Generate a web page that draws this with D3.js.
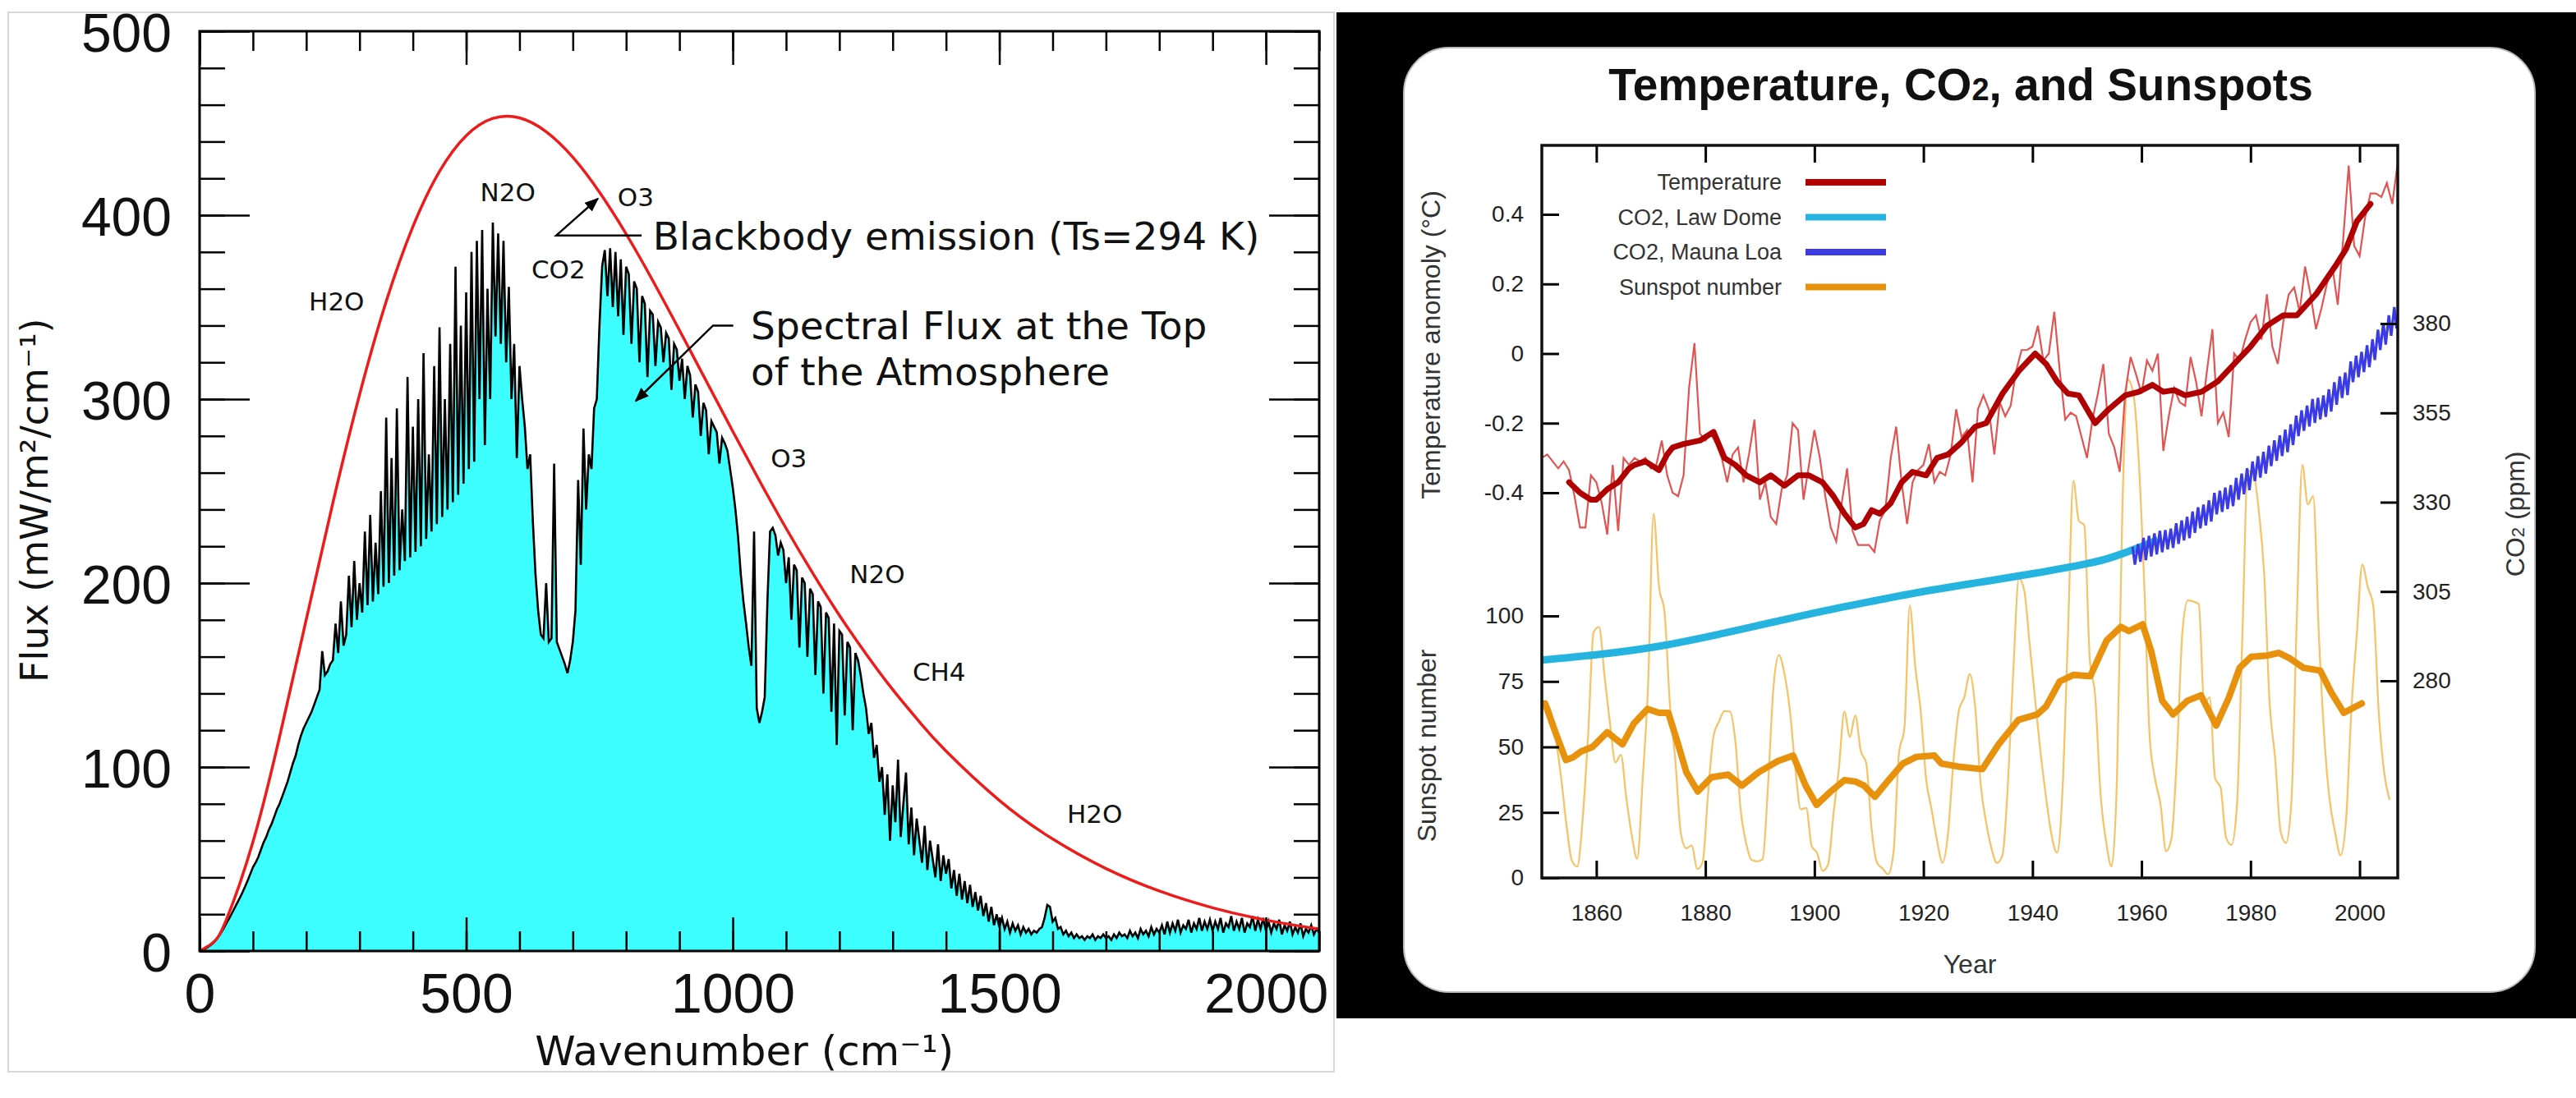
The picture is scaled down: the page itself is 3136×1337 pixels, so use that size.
<!DOCTYPE html>
<html><head><meta charset="utf-8">
<script src="https://cdn.jsdelivr.net/npm/d3@7"></script>
<style>html,body{margin:0;padding:0;background:#fff;} svg{display:block;}</style>
</head><body>
<svg id="c" width="3136" height="1337"></svg>
<script>
// ---------------- LEFT CHART DATA ----------------
const specStep = 5; // cm-1 between samples, starting at 0
const specFlux = [
0,0.5,1.2,2.1,3.0,4.2,5.8,7.7,9.8,12.2,15,17.5,20.2,23,25.8,28.6,31.6,34.8,38.2,41.8,45.5,
48,51,55,59,62,66,69,73,77,80,84,88,92,97,102,106,112,117,121,124,
127,130,134,138,142,163,150,152,156,158,178,162,190,166,172,204,176,212,180,200,
184,228,188,237,190,222,194,250,198,290,200,268,204,295,207,240,212,312,214,285,
217,300,220,325,224,270,228,318,232,339,236,300,240,330,244,372,248,340,254,358,
262,380,266,386,300,392,275,360,300,396,334,390,330,386,320,361,300,330,268,318,
300,285,262,270,234,205,185,172,170,200,168,170,265,168,164,160,156,151,158,168,
185,256,210,284,240,270,262,295,300,340,372,381,356,382,350,380,345,376,335,372,
368,330,364,360,320,356,352,312,348,346,318,342,339,320,336,333,305,330,327,310,
322,300,318,313,290,308,304,280,298,294,270,288,285,282,265,279,276,272,262,252,
240,225,205,190,178,165,155,228,132,124,130,138,190,228,230,226,215,222,218,200,
214,180,210,207,165,203,200,160,197,194,150,190,187,140,184,181,130,178,112,174,
172,128,168,165,120,162,158,150,140,132,118,124,105,112,92,100,74,96,60,90,
70,104,62,80,97,58,78,52,72,60,48,68,44,60,50,40,58,38,52,42,
50,34,44,30,42,28,38,26,36,24,32,22,30,19,26,16,24,14,20,13,
18,12,16,10,15,11,14,9,13,10,12,9,11,10,12,13,18,25,24,16,
18,12,13,9,11,8,10,7,9,7,8,6,8,7,9,6,8,7,9,7,
8,6,9,7,10,8,9,7,11,8,10,7,12,9,11,8,13,9,12,10,
14,9,16,10,15,11,17,10,14,12,17,10,15,12,18,11,16,12,17,11,
16,12,18,10,15,13,19,11,16,12,18,10,15,13,19,11,17,12,18,11,
16,10,15,12,17,9,14,11,16,9,13,10,15,8,12,10,14,9,12,10
];
const bbWave = [0,25,50,100,150,200,250,300,350,400,450,500,550,600,650,700,750,800,850,900,950,1000,1050,1100,1150,1200,1250,1300,1350,1400,1500,1600,1700,1800,1900,2000,2100];
const bbFlux = [0,4.5,16.9,59.3,116.5,180.2,243.7,302.4,353.1,393.7,423.8,443.2,452.6,452.9,445.4,431.5,412.5,389.8,364.4,337.5,310.0,282.5,255.7,229.8,205.4,182.5,161.5,142.1,124.6,108.7,81.9,60.9,44.8,32.6,23.5,16.8,11.9];
const leftXTicks = [0,500,1000,1500,2000];
const leftYTicks = [0,100,200,300,400,500];
const gasLabels = ["H2O","N2O","O3","CO2","O3","N2O","CH4","H2O"];

// ---------------- RIGHT CHART DATA ----------------
const tempFirstYear = 1850;
const tempAnnual = [
-0.30,-0.29,-0.31,-0.33,-0.31,-0.335,-0.41,-0.50,-0.50,-0.35,
-0.37,-0.43,-0.52,-0.32,-0.51,-0.30,-0.32,-0.30,-0.31,-0.30,
-0.33,-0.32,-0.25,-0.35,-0.40,-0.41,-0.35,-0.10,0.03,-0.23,
-0.25,-0.23,-0.26,-0.30,-0.37,-0.29,-0.27,-0.37,-0.29,-0.19,
-0.42,-0.37,-0.47,-0.49,-0.39,-0.35,-0.20,-0.22,-0.42,-0.32,
-0.22,-0.30,-0.41,-0.50,-0.54,-0.43,-0.33,-0.51,-0.55,-0.55,
-0.55,-0.57,-0.48,-0.45,-0.30,-0.21,-0.37,-0.49,-0.37,-0.335,
-0.32,-0.26,-0.37,-0.34,-0.35,-0.29,-0.16,-0.24,-0.22,-0.37,
-0.16,-0.12,-0.16,-0.29,-0.14,-0.18,-0.15,-0.05,0.01,0.01,
0.02,0.08,-0.02,0.00,0.12,-0.05,-0.19,-0.17,-0.18,-0.24,
-0.30,-0.19,-0.115,-0.03,-0.23,-0.27,-0.34,-0.115,-0.01,-0.06,
-0.115,-0.02,-0.05,0.00,-0.28,-0.18,-0.10,-0.14,-0.15,-0.01,
-0.08,-0.18,-0.05,0.07,-0.20,-0.17,-0.24,0.00,-0.02,0.04,
0.09,0.11,0.04,0.17,0.02,-0.03,0.09,0.17,0.19,0.12,
0.25,0.17,0.07,0.13,0.20,0.25,0.14,0.33,0.54,0.31,
0.28,0.39,0.46,0.46,0.45,0.49,0.43,0.55];
const tempSmoothYear = [1855,1857,1859,1860,1862,1864,1866,1867,1869,1870,1871.5,1873,1874,1876,1879,1881.5,1883.5,1885.5,1887.5,1890,1892,1894.5,1897,1899,1901.5,1903.5,1905.5,1907.5,1909,1910.5,1912,1914,1916,1918,1920.5,1922.5,1924.5,1927,1929.5,1931.5,1934.5,1937.5,1940.5,1942.5,1944.5,1946.5,1948.5,1951.5,1954,1957,1959.5,1962,1964,1966,1968,1971,1974,1977,1980,1983,1986,1988.5,1992,1995.5,1997.5,1999.5,2002];
const tempSmoothVal = [-0.37,-0.40,-0.42,-0.42,-0.39,-0.37,-0.33,-0.32,-0.31,-0.32,-0.335,-0.29,-0.27,-0.26,-0.25,-0.225,-0.30,-0.32,-0.35,-0.37,-0.35,-0.38,-0.35,-0.35,-0.37,-0.41,-0.46,-0.50,-0.49,-0.45,-0.46,-0.43,-0.37,-0.34,-0.35,-0.30,-0.29,-0.255,-0.21,-0.20,-0.115,-0.05,0.00,-0.03,-0.08,-0.115,-0.12,-0.20,-0.16,-0.12,-0.11,-0.09,-0.11,-0.105,-0.12,-0.11,-0.08,-0.03,0.02,0.08,0.11,0.11,0.17,0.25,0.30,0.38,0.43];

const lawDomeYear = [1850,1860,1870,1880,1890,1900,1910,1920,1930,1940,1950,1955,1960,1963];
const lawDomeCO2 = [285.8,287.3,289.3,292.2,295.6,299.0,302.1,305.0,307.5,310.0,312.8,314.8,317.6,319.5];

const maunaLoaYear = [1958,1959,1960,1961,1962,1963,1964,1965,1966,1967,1968,1969,1970,1971,1972,1973,1974,1975,1976,1977,1978,1979,1980,1981,1982,1983,1984,1985,1986,1987,1988,1989,1990,1991,1992,1993,1994,1995,1996,1997,1998,1999,2000,2001,2002,2003,2004,2005,2006,2007];
const maunaLoaPeak = [317.5,318.3,320.0,320.6,321.3,322.0,322.2,322.6,324.1,324.9,325.9,327.4,328.6,329.3,330.5,332.6,333.2,334.1,334.8,336.8,338.0,339.5,341.4,342.9,344.1,345.8,347.3,348.7,350.3,351.8,354.2,355.7,357.0,358.9,359.2,359.9,361.6,363.6,365.2,366.3,369.4,371.0,372.1,373.9,375.6,378.3,380.2,382.3,384.6,386.5];
const maunaLoaTrough = [312.5,313.3,313.8,314.8,315.4,316.0,316.8,317.2,318.3,319.3,319.9,321.4,322.7,323.5,324.6,326.6,327.3,328.1,328.9,330.7,332.2,333.4,335.9,336.9,338.0,340.1,341.6,342.9,344.0,346.0,348.5,350.0,351.2,352.2,353.2,353.9,355.4,357.3,359.2,360.0,363.6,365.0,366.4,367.8,369.8,372.6,374.1,376.6,378.6,380.2];

const sunFirstYear = 1850;
const sunspotAnnual = [66.6,64.5,54.1,39.0,20.6,6.7,4.3,22.7,54.8,93.8,
95.8,77.2,59.1,44.0,47.0,30.5,16.3,7.3,37.6,74.0,
139.0,111.2,101.6,66.2,44.7,17.0,11.3,12.4,3.4,6.0,
32.3,54.3,59.7,63.7,63.5,52.2,25.4,13.1,6.8,6.3,
7.1,35.6,73.0,85.1,78.0,64.0,41.8,26.2,26.7,12.1,
9.5,2.7,5.0,24.4,42.0,63.5,53.8,62.0,48.5,43.9,
18.6,5.7,3.6,1.4,9.6,47.4,57.1,103.9,80.6,63.6,
37.6,26.1,14.2,5.8,16.7,44.3,63.9,69.0,77.8,64.9,
35.7,21.2,11.1,5.7,8.7,36.1,79.7,114.4,109.6,88.8,
67.8,47.5,30.6,16.3,9.6,33.2,92.6,151.6,136.3,134.7,
83.9,69.4,31.5,13.9,4.4,38.0,141.7,190.2,184.8,159.0,
112.3,53.9,37.6,27.9,10.2,15.1,47.0,93.8,105.9,105.5,
104.5,66.6,68.9,38.0,34.5,15.5,12.6,27.5,92.5,155.4,
154.6,140.4,115.9,66.6,45.9,17.9,13.4,29.4,100.2,157.6,
142.6,145.7,94.3,54.6,29.9,17.5,8.6,21.5,64.3,93.3,
119.6,111.0,104.0,63.7,40.4,29.8];
const sunSmoothYear = [1850.6,1852.6,1854.4,1855.7,1857.2,1859.3,1862,1864.8,1866.9,1869.4,1871.5,1873.2,1875,1876.5,1878.6,1881.1,1884.2,1886.7,1889.8,1893.3,1896.1,1898.4,1900.4,1903,1905.5,1907.5,1909.1,1911.1,1913.6,1916.2,1918.7,1922,1923.3,1926.4,1930.8,1933.8,1937.4,1940.9,1942.5,1945,1947.5,1950.6,1953.6,1956.2,1957.7,1960.2,1961.8,1963.8,1965.8,1968.4,1970.9,1971.9,1973.7,1976,1978,1980.1,1983.1,1985.2,1987.2,1989.7,1992.8,1994.8,1997.1,2000.4];
const sunSmoothVal = [66.6,55,45,46,48.3,50,55.6,51,59,64.5,63,63,51,40.4,33,38.4,39.4,35.2,40.4,44.6,46.7,35.2,27.9,33,37.3,36.8,35.2,31,37.3,43.6,46.2,46.7,43.6,42.5,41.5,51,60.3,62.4,65.5,75,77.5,77,90.6,95.8,94.2,96.8,86.4,67.6,62.4,67.6,69.7,65.5,58.2,68.7,80.2,84.4,84.9,85.9,83.8,80.2,79.1,70.8,63,66.6];

const yearTicks = [1860,1880,1900,1920,1940,1960,1980,2000];
const tempTicks = [-0.4,-0.2,0,0.2,0.4];
const sunTicks = [0,25,50,75,100];
const co2Ticks = [280,305,330,355,380];
const legendNames = ["Temperature","CO2, Law Dome","CO2, Mauna Loa","Sunspot number"];

// ---------------- DRAW ----------------
const svg = d3.select("#c");
const DJ = "DejaVu Sans, sans-serif";
const LS = "Liberation Sans, Arial, sans-serif";

// ===== LEFT PANEL =====
svg.append("rect").attr("x",10).attr("y",15).attr("width",1614).attr("height",1290)
  .attr("fill","#fff").attr("stroke","#d8d8d8").attr("stroke-width",2);

const xL = d3.scaleLinear().domain([0,2100]).range([243,1606]);
const yL = d3.scaleLinear().domain([0,500]).range([1158,38]);

const defs = svg.append("defs");
defs.append("clipPath").attr("id","clipL").append("rect")
  .attr("x",243).attr("y",38).attr("width",1363).attr("height",1120);
defs.append("clipPath").attr("id","clipR").append("rect")
  .attr("x",1877).attr("y",177).attr("width",1042).attr("height",892);
defs.append("marker").attr("id","arr").attr("viewBox","0 0 10 10").attr("refX",9).attr("refY",5)
  .attr("markerWidth",7).attr("markerHeight",7).attr("markerUnits","strokeWidth").attr("orient","auto")
  .append("path").attr("d","M0,1 L10,5 L0,9 Z").attr("fill","#000");

const spec = specFlux.map((f,i)=>({v:i*specStep,f}));
const gL = svg.append("g").attr("clip-path","url(#clipL)");
gL.append("path").datum(spec).attr("fill","#3dffff")
  .attr("d", d3.area().x(d=>xL(d.v)).y0(yL(0)).y1(d=>yL(d.f)));
gL.append("path").datum(spec).attr("fill","none").attr("stroke","#000").attr("stroke-width",2.6)
  .attr("stroke-linejoin","miter")
  .attr("d", d3.line().x(d=>xL(d.v)).y(d=>yL(d.f)));
gL.append("path").datum(bbWave.map((w,i)=>[w,bbFlux[i]])).attr("fill","none")
  .attr("stroke","#ee1b1b").attr("stroke-width",3.5)
  .attr("d", d3.line().curve(d3.curveNatural).x(d=>xL(d[0])).y(d=>yL(d[1])));

function styleAxis(g, font, size, color){
  g.select(".domain").remove();
  g.attr("font-family",font).attr("font-size",size);
  g.selectAll("text").attr("fill",color);
  g.selectAll("line").attr("stroke","#000");
}
// minor + major ticks, mirrored on all four sides
const xMinor = d3.range(0,2101,100), yMinor = d3.range(0,501,20);
[["b",1158],["t",38]].forEach(([s,y])=>{
  const ax = (s==="b"?d3.axisBottom(xL):d3.axisTop(xL)).tickValues(xMinor).tickSize(-24).tickFormat("");
  const g = svg.append("g").attr("transform",`translate(0,${y})`).call(ax); styleAxis(g,LS,10,"#000");
  g.selectAll("line").attr("stroke-width",2.5);
  const ax2 = (s==="b"?d3.axisBottom(xL):d3.axisTop(xL)).tickValues(leftXTicks).tickSize(-41)
      .tickPadding(27).tickFormat(s==="b"?d3.format("d"):"");
  const g2 = svg.append("g").attr("transform",`translate(0,${y})`).call(ax2); styleAxis(g2,LS,68,"#111");
  g2.selectAll("line").attr("stroke-width",2.5);
});
[["l",243],["r",1606]].forEach(([s,x])=>{
  const ax = (s==="l"?d3.axisLeft(yL):d3.axisRight(yL)).tickValues(yMinor).tickSize(-31).tickFormat("");
  const g = svg.append("g").attr("transform",`translate(${x},0)`).call(ax); styleAxis(g,LS,10,"#000");
  g.selectAll("line").attr("stroke-width",2.5);
  const ax2 = (s==="l"?d3.axisLeft(yL):d3.axisRight(yL)).tickValues(leftYTicks).tickSize(-61)
      .tickPadding(34).tickFormat(s==="l"?d3.format("d"):"");
  const g2 = svg.append("g").attr("transform",`translate(${x},0)`).call(ax2); styleAxis(g2,LS,66,"#111");
  g2.selectAll("text").attr("dy","0.37em");
  g2.selectAll("line").attr("stroke-width",2.5);
});
svg.append("rect").attr("x",243).attr("y",38).attr("width",1363).attr("height",1120)
  .attr("fill","none").attr("stroke","#000").attr("stroke-width",3);

svg.append("text").attr("transform",`translate(42,${yL(245)}) rotate(-90)`).attr("text-anchor","middle")
  .attr("dy","0.35em").attr("font-family",DJ).attr("font-size",46).attr("fill","#111")
  .text("Flux (mW/m²/cm⁻¹)");
svg.append("text").attr("x",xL(1022)).attr("y",1297).attr("text-anchor","middle")
  .attr("font-family",DJ).attr("font-size",50).attr("fill","#111").text("Wavenumber (cm⁻¹)");

// gas labels
const gasPos = [[257,353],[578,412.5],[818,410],[673,370.5],[1105,268],[1271,205],[1387,152],[1679,74.5]];
gasLabels.forEach((t,i)=>{
  svg.append("text").attr("x",xL(gasPos[i][0])).attr("y",yL(gasPos[i][1])).attr("dy","0.36em")
    .attr("text-anchor","middle").attr("font-family",DJ).attr("font-size",31).attr("fill","#111").text(t);
});
// annotations
svg.append("text").attr("x",xL(850)).attr("y",yL(389)).attr("dy","0.36em").attr("font-family",DJ)
  .attr("font-size",47).attr("fill","#111").text("Blackbody emission (Ts=294 K)");
svg.append("text").attr("x",xL(1034)).attr("y",yL(340)).attr("dy","0.36em").attr("font-family",DJ)
  .attr("font-size",47).attr("fill","#111").text("Spectral Flux at the Top");
svg.append("text").attr("x",xL(1034)).attr("y",yL(315)).attr("dy","0.36em").attr("font-family",DJ)
  .attr("font-size",47).attr("fill","#111").text("of the Atmosphere");
svg.append("path").attr("fill","none").attr("stroke","#000").attr("stroke-width",2.5)
  .attr("marker-end","url(#arr)")
  .attr("d",`M${xL(829)},${yL(389)} L${xL(669)},${yL(389)} L${xL(747)},${yL(409)}`);
svg.append("path").attr("fill","none").attr("stroke","#000").attr("stroke-width",2.5)
  .attr("marker-end","url(#arr)")
  .attr("d",`M${xL(1001)},${yL(340)} L${xL(963)},${yL(340)} L${xL(818)},${yL(299)}`);

// ===== RIGHT PANEL =====
svg.append("rect").attr("x",1627).attr("y",15).attr("width",1509).attr("height",1225).attr("fill","#000");
svg.append("rect").attr("x",1709).attr("y",58).attr("width",1377).attr("height",1150).attr("rx",55)
  .attr("fill","#fff").attr("stroke","#bbb").attr("stroke-width",2);

const xR = d3.scaleLinear().domain([1850,2007]).range([1877,2919]);
const yT = d3.scaleLinear().domain([-0.4,0.4]).range([600,261]);
const yS = d3.scaleLinear().domain([0,100]).range([1069,750]);
const yC = d3.scaleLinear().domain([280,380]).range([829,394]);

const title = svg.append("text").attr("x",2387).attr("y",122).attr("text-anchor","middle")
  .attr("font-family",LS).attr("font-weight","bold").attr("font-size",55).attr("fill","#111");
title.append("tspan").text("Temperature, CO");
title.append("tspan").attr("font-size",38).text("2");
title.append("tspan").text(", and Sunspots");

const gR = svg.append("g").attr("clip-path","url(#clipR)");
// sunspot thin
gR.append("path").datum(sunspotAnnual.map((s,i)=>[sunFirstYear+i+0.5,s])).attr("fill","none")
  .attr("stroke","#f4c46a").attr("stroke-width",2.3)
  .attr("d", d3.line().curve(d3.curveMonotoneX).x(d=>xR(d[0])).y(d=>yS(d[1])));
// temperature thin
gR.append("path").datum(tempAnnual.map((t,i)=>[tempFirstYear+i,t])).attr("fill","none")
  .attr("stroke","#e05454").attr("stroke-width",2.2)
  .attr("d", d3.line().x(d=>xR(d[0])).y(d=>yT(d[1])));
// Law Dome
gR.append("path").datum(lawDomeYear.map((y,i)=>[y,lawDomeCO2[i]])).attr("fill","none")
  .attr("stroke","#25b4e0").attr("stroke-width",9)
  .attr("d", d3.line().curve(d3.curveNatural).x(d=>xR(d[0])).y(d=>yC(d[1])));
// Mauna Loa seasonal zigzag
const ml = [];
maunaLoaYear.forEach((y,i)=>{ ml.push([y+0.37,maunaLoaPeak[i]]); ml.push([y+0.79,maunaLoaTrough[i]]); });
gR.append("path").datum(ml).attr("fill","none").attr("stroke","#3b3be6").attr("stroke-width",3.2)
  .attr("d", d3.line().x(d=>xR(d[0])).y(d=>yC(d[1])));
// sunspot smooth
gR.append("path").datum(sunSmoothYear.map((y,i)=>[y,sunSmoothVal[i]])).attr("fill","none")
  .attr("stroke","#e8910d").attr("stroke-width",8).attr("stroke-linejoin","round").attr("stroke-linecap","round")
  .attr("d", d3.line().x(d=>xR(d[0])).y(d=>yS(d[1])));
// temperature smooth
gR.append("path").datum(tempSmoothYear.map((y,i)=>[y,tempSmoothVal[i]])).attr("fill","none")
  .attr("stroke","#b00000").attr("stroke-width",7).attr("stroke-linejoin","round").attr("stroke-linecap","round")
  .attr("d", d3.line().x(d=>xR(d[0])).y(d=>yT(d[1])));

// axes
function rAxis(axis, tr){
  const g = svg.append("g").attr("transform",tr).call(axis);
  styleAxis(g,LS,28,"#222");
  g.selectAll("line").attr("stroke-width",3);
  return g;
}
rAxis(d3.axisBottom(xR).tickValues(yearTicks).tickSize(-21).tickPadding(32).tickFormat(d3.format("d")),"translate(0,1069)");
rAxis(d3.axisTop(xR).tickValues(yearTicks).tickSize(-21).tickFormat(""),"translate(0,177)");
rAxis(d3.axisLeft(yT).tickValues(tempTicks).tickSize(-21).tickPadding(22).tickFormat(d=>d===0?"0":d.toFixed(1)),"translate(1877,0)");
rAxis(d3.axisLeft(yS).tickValues(sunTicks).tickSize(-21).tickPadding(22).tickFormat(d3.format("d")),"translate(1877,0)");
rAxis(d3.axisRight(yC).tickValues(co2Ticks).tickSize(-21).tickPadding(18).tickFormat(d3.format("d")),"translate(2919,0)");
svg.append("rect").attr("x",1877).attr("y",177).attr("width",1042).attr("height",892)
  .attr("fill","none").attr("stroke","#111").attr("stroke-width",3.5);

svg.append("text").attr("x",xR(1928.5)).attr("y",1185).attr("text-anchor","middle")
  .attr("font-family",LS).attr("font-size",32).attr("fill","#333").text("Year");
svg.append("text").attr("transform",`translate(1742,${yT(0.025)}) rotate(-90)`).attr("text-anchor","middle")
  .attr("dy","0.35em").attr("font-family",LS).attr("font-size",32).attr("fill","#333").text("Temperature anomoly (°C)");
svg.append("text").attr("transform",`translate(1737,${yS(50.5)}) rotate(-90)`).attr("text-anchor","middle")
  .attr("dy","0.35em").attr("font-family",LS).attr("font-size",32).attr("fill","#333").text("Sunspot number");
const co2t = svg.append("text").attr("transform",`translate(3062,${yC(326.7)}) rotate(-90)`).attr("text-anchor","middle")
  .attr("dy","0.35em").attr("font-family",LS).attr("font-size",32).attr("fill","#333");
co2t.append("tspan").text("CO");
co2t.append("tspan").attr("font-size",22).text("2");
co2t.append("tspan").text(" (ppm)");

// legend
const legColors = ["#b00000","#25b4e0","#3b3be6","#e8910d"];
legendNames.forEach((n,i)=>{
  const y = 222 + i*42.5;
  svg.append("text").attr("x",2169).attr("y",y).attr("dy","0.35em").attr("text-anchor","end")
    .attr("font-family",LS).attr("font-size",27).attr("fill","#333").text(n);
  svg.append("line").attr("x1",2198).attr("x2",2296).attr("y1",y).attr("y2",y)
    .attr("stroke",legColors[i]).attr("stroke-width",8);
});
</script></body></html>
